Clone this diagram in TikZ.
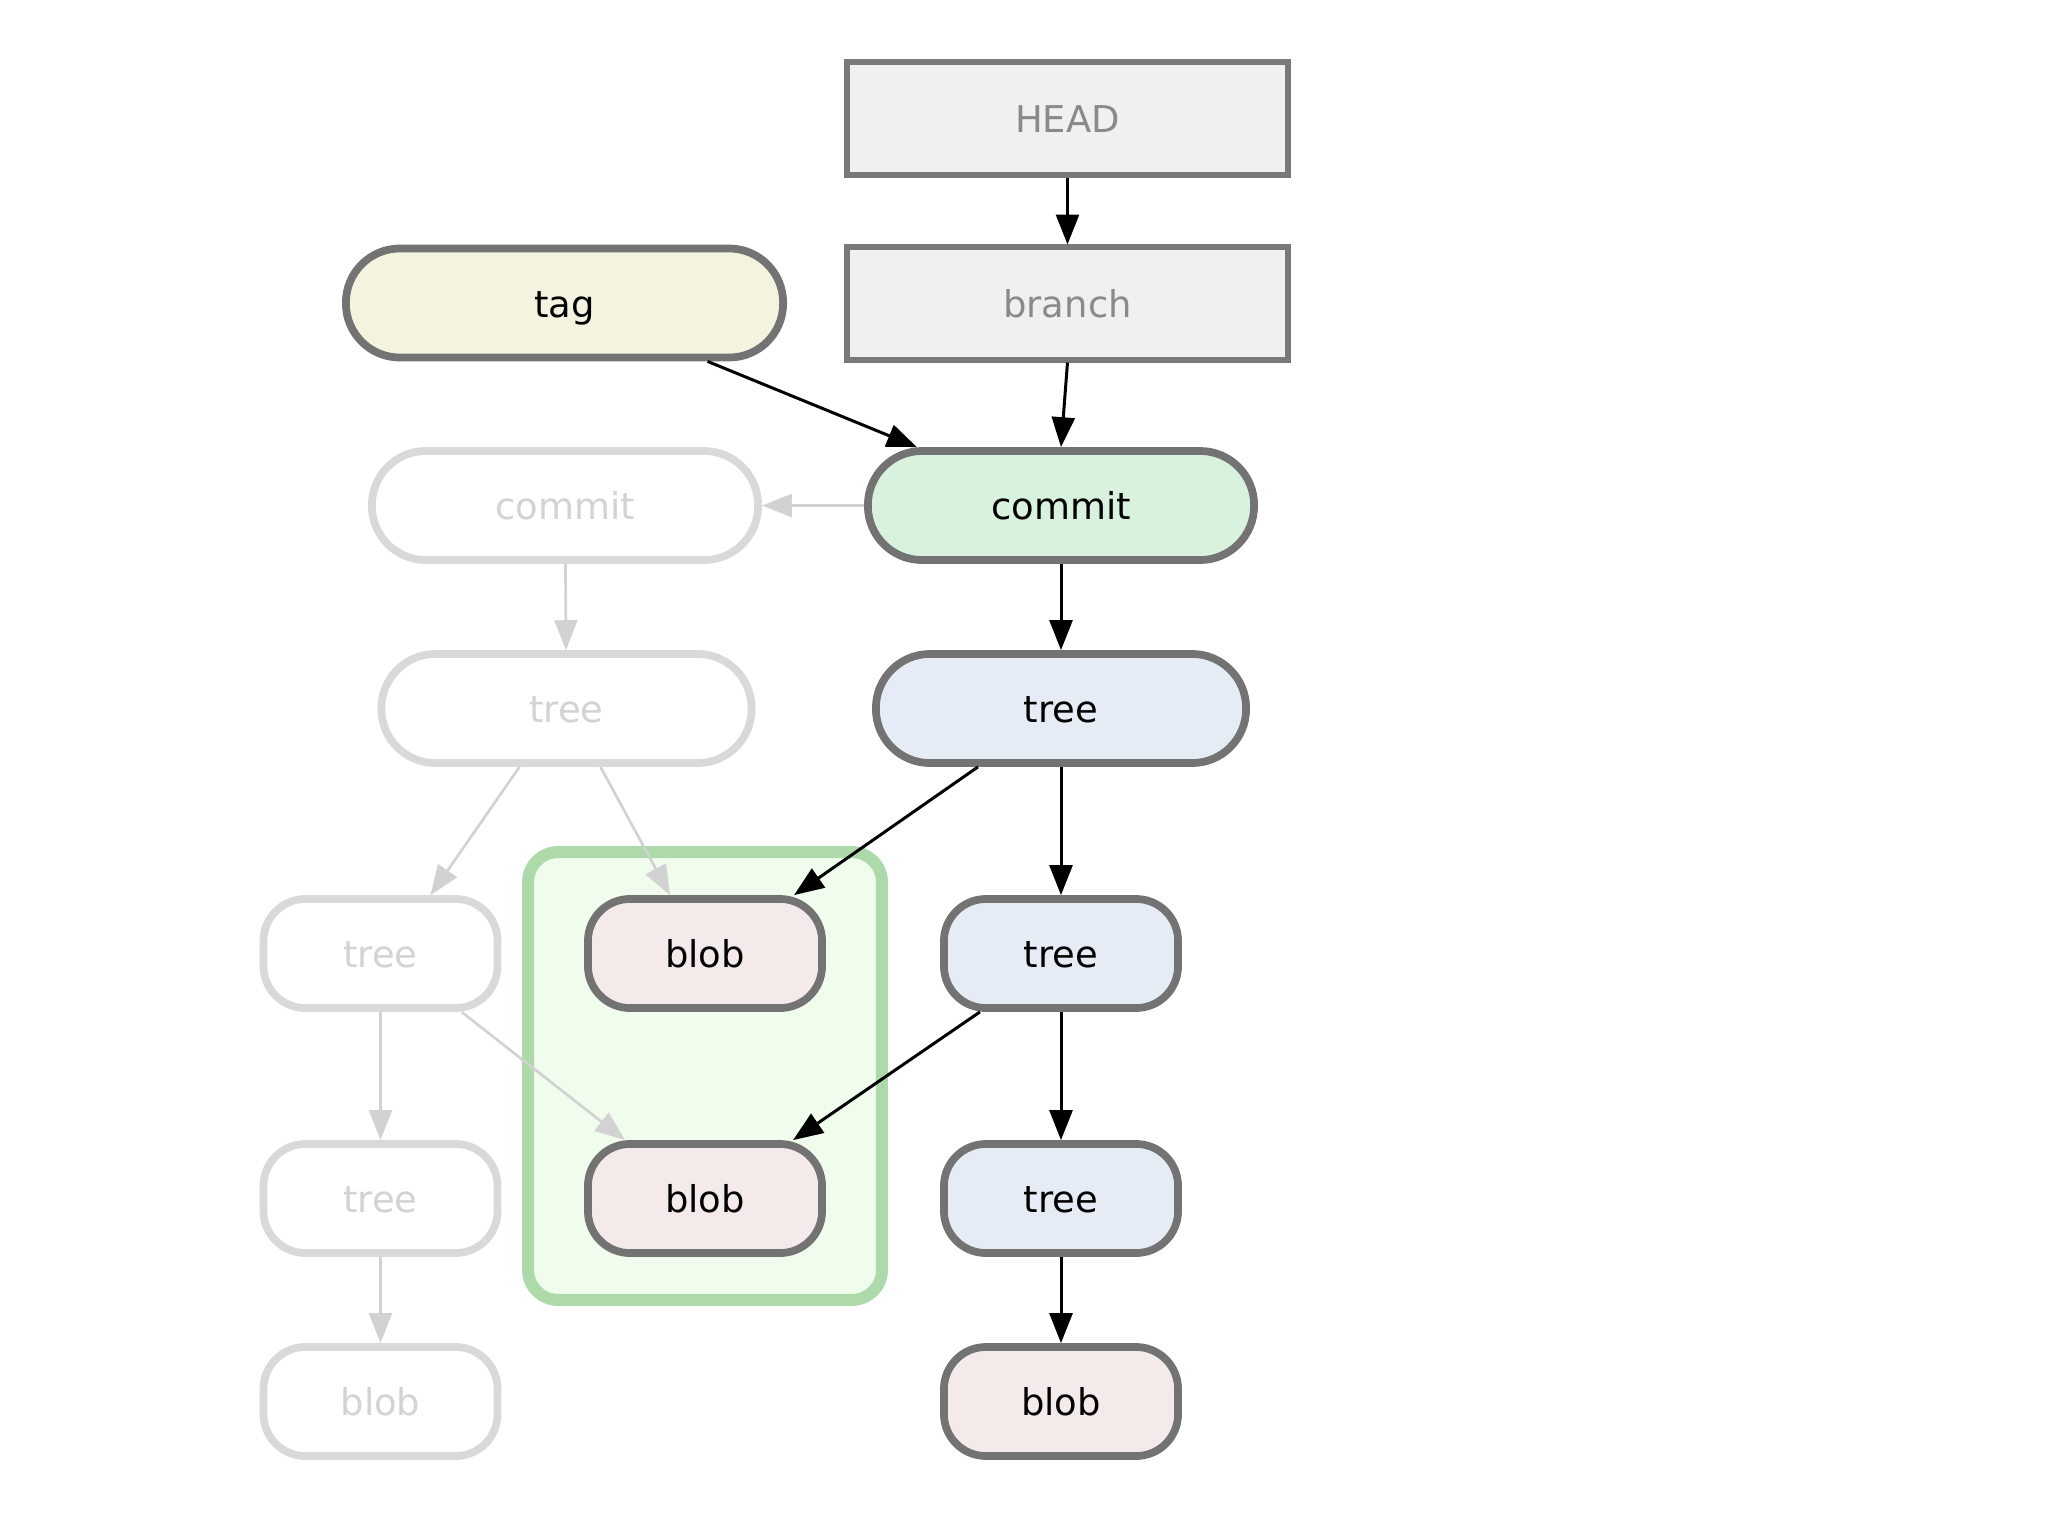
\documentclass[tikz,border=0pt]{standalone}
\usepackage{fontspec}
\setmainfont{DejaVu Sans}
\usetikzlibrary{arrows.meta,backgrounds,calc,fit}
\definecolor{refline}{HTML}{797979}
\definecolor{reffill}{HTML}{F0F0F1}
\definecolor{reftext}{HTML}{8A8A8A}
\definecolor{objline}{HTML}{737373}
\definecolor{tagfill}{HTML}{F4F3E0}
\definecolor{commitfill}{HTML}{D9F2DD}
\definecolor{treefill}{HTML}{E6ECF5}
\definecolor{blobfill}{HTML}{F5EAEA}
\definecolor{oldline}{HTML}{D9D9D9}
\definecolor{oldtext}{HTML}{D3D3D3}
\definecolor{oldarrow}{HTML}{D2D2D2}
\definecolor{sharedline}{HTML}{AED9AB}
\definecolor{sharedfill}{HTML}{F0FCEC}

\begin{document}
\begin{tikzpicture}[x=0.01cm,y=-0.01cm,
  font=\fontsize{10.5}{12}\selectfont,
  every node/.style={text height=1em,text depth=0.2em},
  refbox/.style={draw=refline,line width=1.7pt,fill=reffill,text=reftext,
    inner sep=0pt,minimum width=4.4cm,minimum height=1.12cm},
  obj/.style={draw=objline,line width=2.2pt,inner sep=0pt,
    rounded corners=0.54cm,minimum height=1.09cm},
  small/.style={rounded corners=0.42cm,minimum width=2.34cm},
  old/.style={draw=oldline,line width=2.2pt,inner sep=0pt,fill=white,text=oldtext,
    rounded corners=0.54cm,minimum height=1.09cm},
  ptr/.style={-{Triangle[length=8.5pt,width=6.5pt]},line width=0.85pt,black},
  oldptr/.style={-{Triangle[length=8.5pt,width=6.5pt]},line width=0.75pt,oldarrow},
]
\useasboundingbox (0,0) rectangle (2048,1536);

\node[refbox] (head) at (1067.5,118.5) {HEAD};
\node[refbox] (branch) at (1067.5,303.5) {branch};
\node[obj,fill=tagfill,minimum width=4.37cm] (tag) at (564.5,303) {tag};

\node[obj,fill=commitfill,minimum width=3.86cm] (commit) at (1061,505.5) {commit};
\node[old,minimum width=3.86cm] (oldcommit) at (565,505.5) {commit};

\node[obj,fill=treefill,minimum width=3.70cm] (tree) at (1061,708.5) {tree};
\node[old,minimum width=3.70cm] (oldtree) at (566.5,708.5) {tree};

\node[obj,small,fill=treefill] (subtree) at (1061,953.5) {tree};
\node[obj,small,fill=treefill] (subsubtree) at (1061,1198.5) {tree};
\node[obj,small,fill=blobfill] (deepblob) at (1061,1401.5) {blob};

\node[obj,small,fill=blobfill] (blobA) at (705,953.5) {blob};
\node[obj,small,fill=blobfill] (blobB) at (705,1198.5) {blob};

\node[old,small] (oldsubtree) at (380.5,953.5) {tree};
\node[old,small] (oldsubsubtree) at (380.5,1198.5) {tree};
\node[old,small] (olddeepblob) at (380.5,1401.5) {blob};

\begin{scope}[on background layer]
\node[draw=sharedline,fill=sharedfill,line width=3.4pt,rounded corners=0.3cm,
  inner xsep=0.56cm,inner ysep=0.43cm,fit=(blobA)(blobB)] (shared) {};
\end{scope}

% current history
\draw[ptr] (head) -- (branch);
\draw[ptr] (branch.south) -- (commit.north);
\draw[ptr] ([xshift=1.43cm]tag.south) -- ([xshift=-1.44cm]commit.north);
\draw[ptr] (commit) -- (tree);
\draw[ptr] ([xshift=-0.83cm]tree.south) -- ([xshift=0.89cm]blobA.north);
\draw[ptr] (tree) -- (subtree);
\draw[ptr] ([xshift=-0.81cm]subtree.south) -- ([xshift=0.88cm]blobB.north);
\draw[ptr] (subtree) -- (subsubtree);
\draw[ptr] (subsubtree) -- (deepblob);

% previous history
\draw[oldptr] (commit) -- (oldcommit);
\draw[oldptr] (oldcommit) -- (oldtree);
\draw[oldptr] ([xshift=-0.47cm]oldtree.south) -- ([xshift=0.5cm]oldsubtree.north);
\draw[oldptr] ([xshift=0.34cm]oldtree.south) -- ([xshift=-0.35cm]blobA.north);
\draw[oldptr] (oldsubtree) -- (oldsubsubtree);
\draw[oldptr] ([xshift=0.81cm]oldsubtree.south) -- ([xshift=-0.8cm]blobB.north);
\draw[oldptr] (oldsubsubtree) -- (olddeepblob);
\end{tikzpicture}
\end{document}
